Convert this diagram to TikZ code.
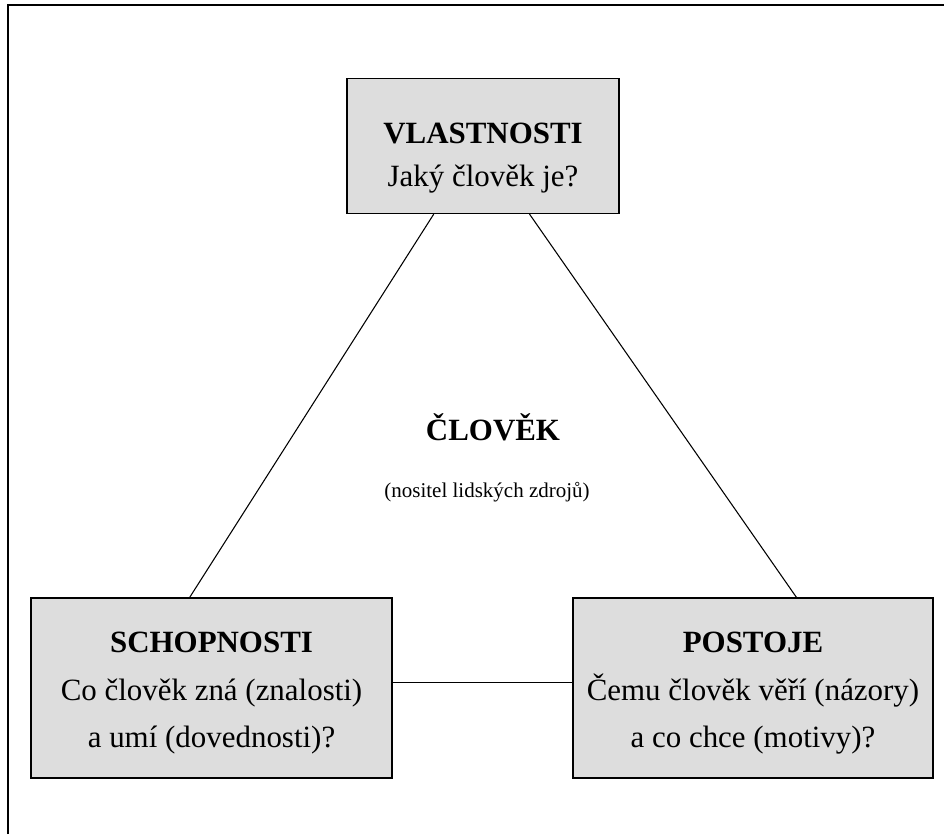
\documentclass[tikz,border=0pt]{standalone}
\usepackage{fontspec}
\setmainfont{Liberation Serif}
\usetikzlibrary{calc}
\definecolor{boxgray}{RGB}{221,221,221}

\begin{document}
\begin{tikzpicture}[x=0.75pt,y=-0.75pt]
\tikzstyle{box} = [rectangle, draw=black, line width=1.1pt, fill=boxgray]
\tikzstyle{edge} = [draw=black, line width=0.8pt]
\tikzstyle{txt} = [anchor=base, inner sep=0pt, font=\fontsize{23.2}{28}\selectfont]
\tikzstyle{head} = [txt, font=\fontsize{23.2}{28}\selectfont\bfseries]
\tikzstyle{small} = [txt, font=\fontsize{15.75}{19}\selectfont]

\useasboundingbox (0,0) rectangle (944,834);
\draw[line width=1.5pt] (8,834) -- (8,5) -- (944,5);

% boxes
\node[box, minimum width=204pt, minimum height=101pt] (V) at (483,146) {};
\node[box, minimum width=270.75pt, minimum height=135pt] (S) at (211.5,688) {};
\node[box, minimum width=270pt, minimum height=135pt] (P) at (753,688) {};

% edges
\draw[edge] ($(V.south west)!0.32!(V.south east)$) to ($(S.north west)!0.44!(S.north east)$);
\draw[edge] ($(V.south west)!0.67!(V.south east)$) to ($(P.north west)!0.62!(P.north east)$);
\draw[edge] ([yshift=4pt]S.east) to ([yshift=4pt]P.west);

% texts
\node[head] (Vh) at (483,144) {VLASTNOSTI};
\node[txt] (Vq) at (483,186) {Jaký člověk je?};

\node[head] (C) at (493,440) {ČLOVĚK};
\node[small] (Cs) at (487,497) {(nositel lidských zdrojů)};

\node[head] (Sh) at (211.5,652) {SCHOPNOSTI};
\node[txt] (Sq) at (211.5,700) {Co člověk zná (znalosti)};
\node[txt] (Sr) at (211.5,747) {a umí (dovednosti)?};

\node[head] (Ph) at (753,652) {POSTOJE};
\node[txt] (Pq) at (753,700) {Čemu člověk věří (názory)};
\node[txt] (Pr) at (753,747) {a co chce (motivy)?};
\end{tikzpicture}
\end{document}
